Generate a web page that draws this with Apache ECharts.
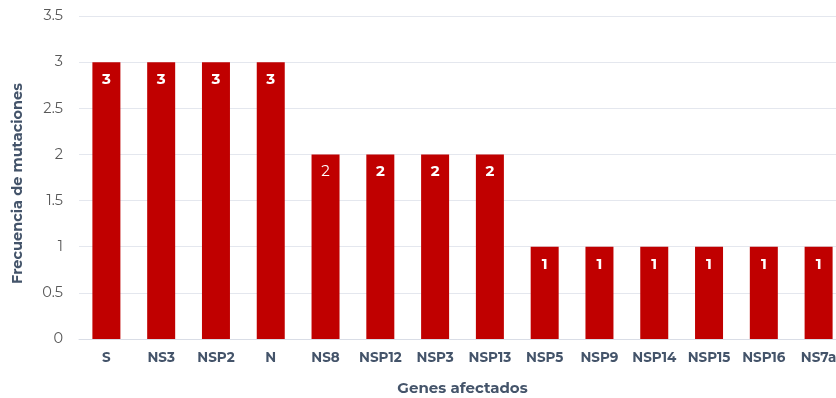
<!DOCTYPE html>
<html>
<head>
<meta charset="utf-8">
<script src="https://cdn.jsdelivr.net/npm/echarts@6/dist/echarts.min.js"></script>
<style>
  html, body { margin: 0; padding: 0; background: #fff; overflow: hidden; }
  #chart { width: 836px; height: 398px; }
</style>
</head>
<body>
<div id="chart"></div>
<script>
// Genes afectados y número de mutaciones en cada uno
const genes = ['S', 'NS3', 'NSP2', 'N', 'NS8', 'NSP12', 'NSP3', 'NSP13', 'NSP5', 'NSP9', 'NSP14', 'NSP15', 'NSP16', 'NS7a'];
const mutaciones = [3, 3, 3, 3, 2, 2, 2, 2, 1, 1, 1, 1, 1, 1];
// Etiquetas con peso normal (el resto en negrita)
const etiquetasNormales = ['NS8'];

const font = 'Montserrat, "Open Sans", "Noto Sans", sans-serif';

const chart = echarts.init(document.getElementById('chart'), null, { renderer: 'canvas' });

chart.setOption({
  animation: false,
  // the plot runs slightly past the right edge of the canvas
  grid: { left: 79, width: 767, top: 16, height: 323, containLabel: false, outerBoundsMode: 'none' },
  xAxis: {
    type: 'category',
    data: genes,
    name: 'Genes afectados',
    nameLocation: 'middle',
    nameGap: 42,
    nameTextStyle: { fontFamily: font, fontSize: 15, fontWeight: 'bold', color: '#44546a' },
    axisLine: { lineStyle: { color: '#d9dde6', width: 1 } },
    axisTick: { show: false },
    axisLabel: { interval: 0, fontFamily: font, fontSize: 13.5, fontWeight: 'bold', color: '#44546a', margin: 12 }
  },
  yAxis: {
    type: 'value',
    min: 0,
    max: 3.5,
    interval: 0.5,
    name: 'Frecuencia de mutaciones',
    nameLocation: 'middle',
    nameGap: 54,
    nameTextStyle: { fontFamily: font, fontSize: 14.5, fontWeight: 'bold', color: '#44546a', padding: [0, 12, 0, 0] },
    axisLine: { show: false },
    axisTick: { show: false },
    axisLabel: { fontFamily: font, fontSize: 14.5, color: '#595959', margin: 16 },
    splitLine: { lineStyle: { color: '#e4e7ee', width: 1 } }
  },
  series: [{
    type: 'bar',
    barWidth: 28,
    data: mutaciones.map((v, i) => ({
      value: v,
      label: { fontWeight: etiquetasNormales.includes(genes[i]) ? 'normal' : 'bold' }
    })),
    itemStyle: { color: '#c00000' },
    label: {
      show: true,
      position: 'insideTop',
      distance: 10,
      color: '#ffffff',
      fontFamily: font,
      fontSize: 15
    }
  }]
});
</script>
</body>
</html>
